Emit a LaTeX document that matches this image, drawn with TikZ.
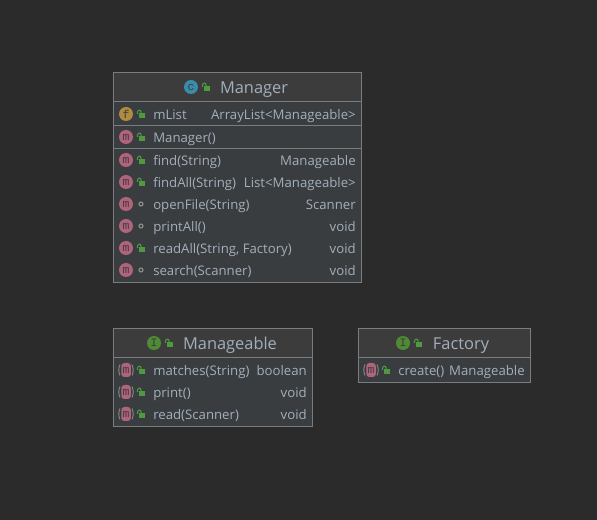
\documentclass[tikz,border=0pt]{standalone}
\usepackage{fontspec}
\setmainfont{Open Sans}
\newfontfamily\iconfont{Liberation Mono}
\usetikzlibrary{calc}
\definecolor{canvas}{HTML}{2B2B2B}
\definecolor{headfill}{HTML}{3C3C3C}
\definecolor{bodyfill}{HTML}{3A3D3F}
\definecolor{frame}{HTML}{7A7D7E}
\definecolor{inktext}{HTML}{A3AFBB}
\definecolor{lockgreen}{HTML}{4E9A3E}
\definecolor{classblue}{HTML}{3A8CA8}
\definecolor{ifacegreen}{HTML}{4F8A35}
\definecolor{fieldgold}{HTML}{B08A3E}
\definecolor{methodpink}{HTML}{B0647C}
\tikzset{
	titletext/.style={text=inktext, font=\fontsize{12.3pt}{14pt}\selectfont, inner sep=0pt, anchor=base},
	rowtext/.style={text=inktext, font=\fontsize{9.9pt}{11pt}\selectfont, inner sep=0pt, anchor=base west},
	rettext/.style={text=inktext, font=\fontsize{9.9pt}{11pt}\selectfont, inner sep=0pt, anchor=base east},
	letter/.style={text=#1, font=\iconfont\fontsize{8.6pt}{9pt}\selectfont, inner sep=0pt},
	lockicon/.pic={
		\fill [lockgreen] (-2.5,-0.5) rectangle (4,4.5);
		\draw [lockgreen, line width=0.8pt] (-3.5,0) -- (-3.5,-1.5) .. controls (-3.5,-4.7) and (0.2,-4.7) .. (0.2,-1.5) -- (0.2,0);
	},
	pkgdot/.pic={
		\draw [frame!85!white, line width=0.8pt] (0,0) circle (2);
	},
	roundicon/.pic={
		\fill [#1] (0,0) circle (7);
	},
	absicon/.pic={
		\fill [methodpink, rounded corners=2.2pt] (-4.6,-7) rectangle (4.8,7);
		\draw [frame!90!white, line width=0.7pt] (-6,-5.5) .. controls (-7.6,-2) and (-7.6,2) .. (-6,5.5);
		\draw [frame!90!white, line width=0.7pt] (6,-5.5) .. controls (7.6,-2) and (7.6,2) .. (6,5.5);
	}
}
\begin{document}
\begin{tikzpicture}[x=0.75pt, y=-0.75pt]
		\useasboundingbox (0,0) rectangle (597,520);
		\fill [canvas] (0,0) rectangle (597,520);

		% boxes
		\fill [headfill] (113.5,72.5) rectangle (361.5,101.5);
		\fill [bodyfill] (113.5,101.5) rectangle (361.5,282.5);
		\fill [headfill] (113.5,328.5) rectangle (312.5,357.5);
		\fill [bodyfill] (113.5,357.5) rectangle (312.5,426.5);
		\fill [headfill] (358.5,328.5) rectangle (530.5,357.5);
		\fill [bodyfill] (358.5,357.5) rectangle (530.5,382.5);

		\draw [frame] (113.5,72.5) rectangle (361.5,282.5);
		\draw [frame] (113.5,101.5) -- (361.5,101.5);
		\draw [frame] (113.5,125.5) -- (361.5,125.5);
		\draw [frame] (113.5,148.5) -- (361.5,148.5);
		\draw [frame] (113.5,328.5) rectangle (312.5,426.5);
		\draw [frame] (113.5,357.5) -- (312.5,357.5);
		\draw [frame] (358.5,328.5) rectangle (530.5,382.5);
		\draw [frame] (358.5,357.5) -- (530.5,357.5);

		% titles
		\node [titletext] (managertitle) at (254,94) {Manager};
		\pic at (191,87) {roundicon=classblue};
		\node [letter=headfill] (managerc) at (191,87) {c};
		\pic at (206,87) {lockicon};

		\node [titletext] (manageabletitle) at (230,350) {Manageable};
		\pic at (154,343) {roundicon=ifacegreen};
		\node [letter=headfill] (manageablei) at (154,343) {I};
		\pic at (169,343) {lockicon};

		\node [titletext] (factorytitle) at (461,350) {Factory};
		\pic at (403,343) {roundicon=ifacegreen};
		\node [letter=headfill] (factoryi) at (403,343) {I};
		\pic at (418,343) {lockicon};

		% manager rows
		\pic at (126,114) {roundicon=fieldgold};
		\node [letter=headfill] (fieldf) at (126,114) {f};
		\pic at (141,114) {lockicon};
		\node [rowtext] (mlist) at (153,120) {mList};
		\node [rettext] (mlisttype) at (356,120) {ArrayList<Manageable>};

		\foreach \i/\ypos/\scopeicon/\label/\ret in {
				1/137/lockicon/Manager()/,
				2/160/lockicon/find(String)/Manageable,
				3/182/lockicon/findAll(String)/List<Manageable>,
				4/204/pkgdot/openFile(String)/Scanner,
				5/226/pkgdot/printAll()/void,
				6/248/lockicon/{readAll(String, Factory)}/void,
				7/270/pkgdot/search(Scanner)/void}{
			\pic at (126,\ypos) {roundicon=methodpink};
			\node [letter=headfill] (managerm\i) at (126,\ypos) {m};
			\pic at (141,\ypos) {\scopeicon};
			\node [rowtext] (managerrow\i) at (153,\ypos+6) {\label};
			\node [rettext] (managerret\i) at (356,\ypos+6) {\ret};
		}

		% interface rows
		\foreach \i/\ypos/\label/\ret in {
				1/370/matches(String)/boolean,
				2/392/print()/void,
				3/414/read(Scanner)/void}{
			\pic at (126,\ypos) {absicon};
			\node [letter=headfill] (manageablem\i) at (126,\ypos) {m};
			\pic at (141,\ypos) {lockicon};
			\node [rowtext] (manageablerow\i) at (153,\ypos+6) {\label};
			\node [rettext] (manageableret\i) at (307,\ypos+6) {\ret};
		}

		\pic at (371,370) {absicon};
		\node [letter=headfill] (factorym) at (371,370) {m};
		\pic at (386,370) {lockicon};
		\node [rowtext] (factoryrow) at (398,376) {create()};
		\node [rettext] (factoryret) at (525,376) {Manageable};
	\end{tikzpicture}
\end{document}
